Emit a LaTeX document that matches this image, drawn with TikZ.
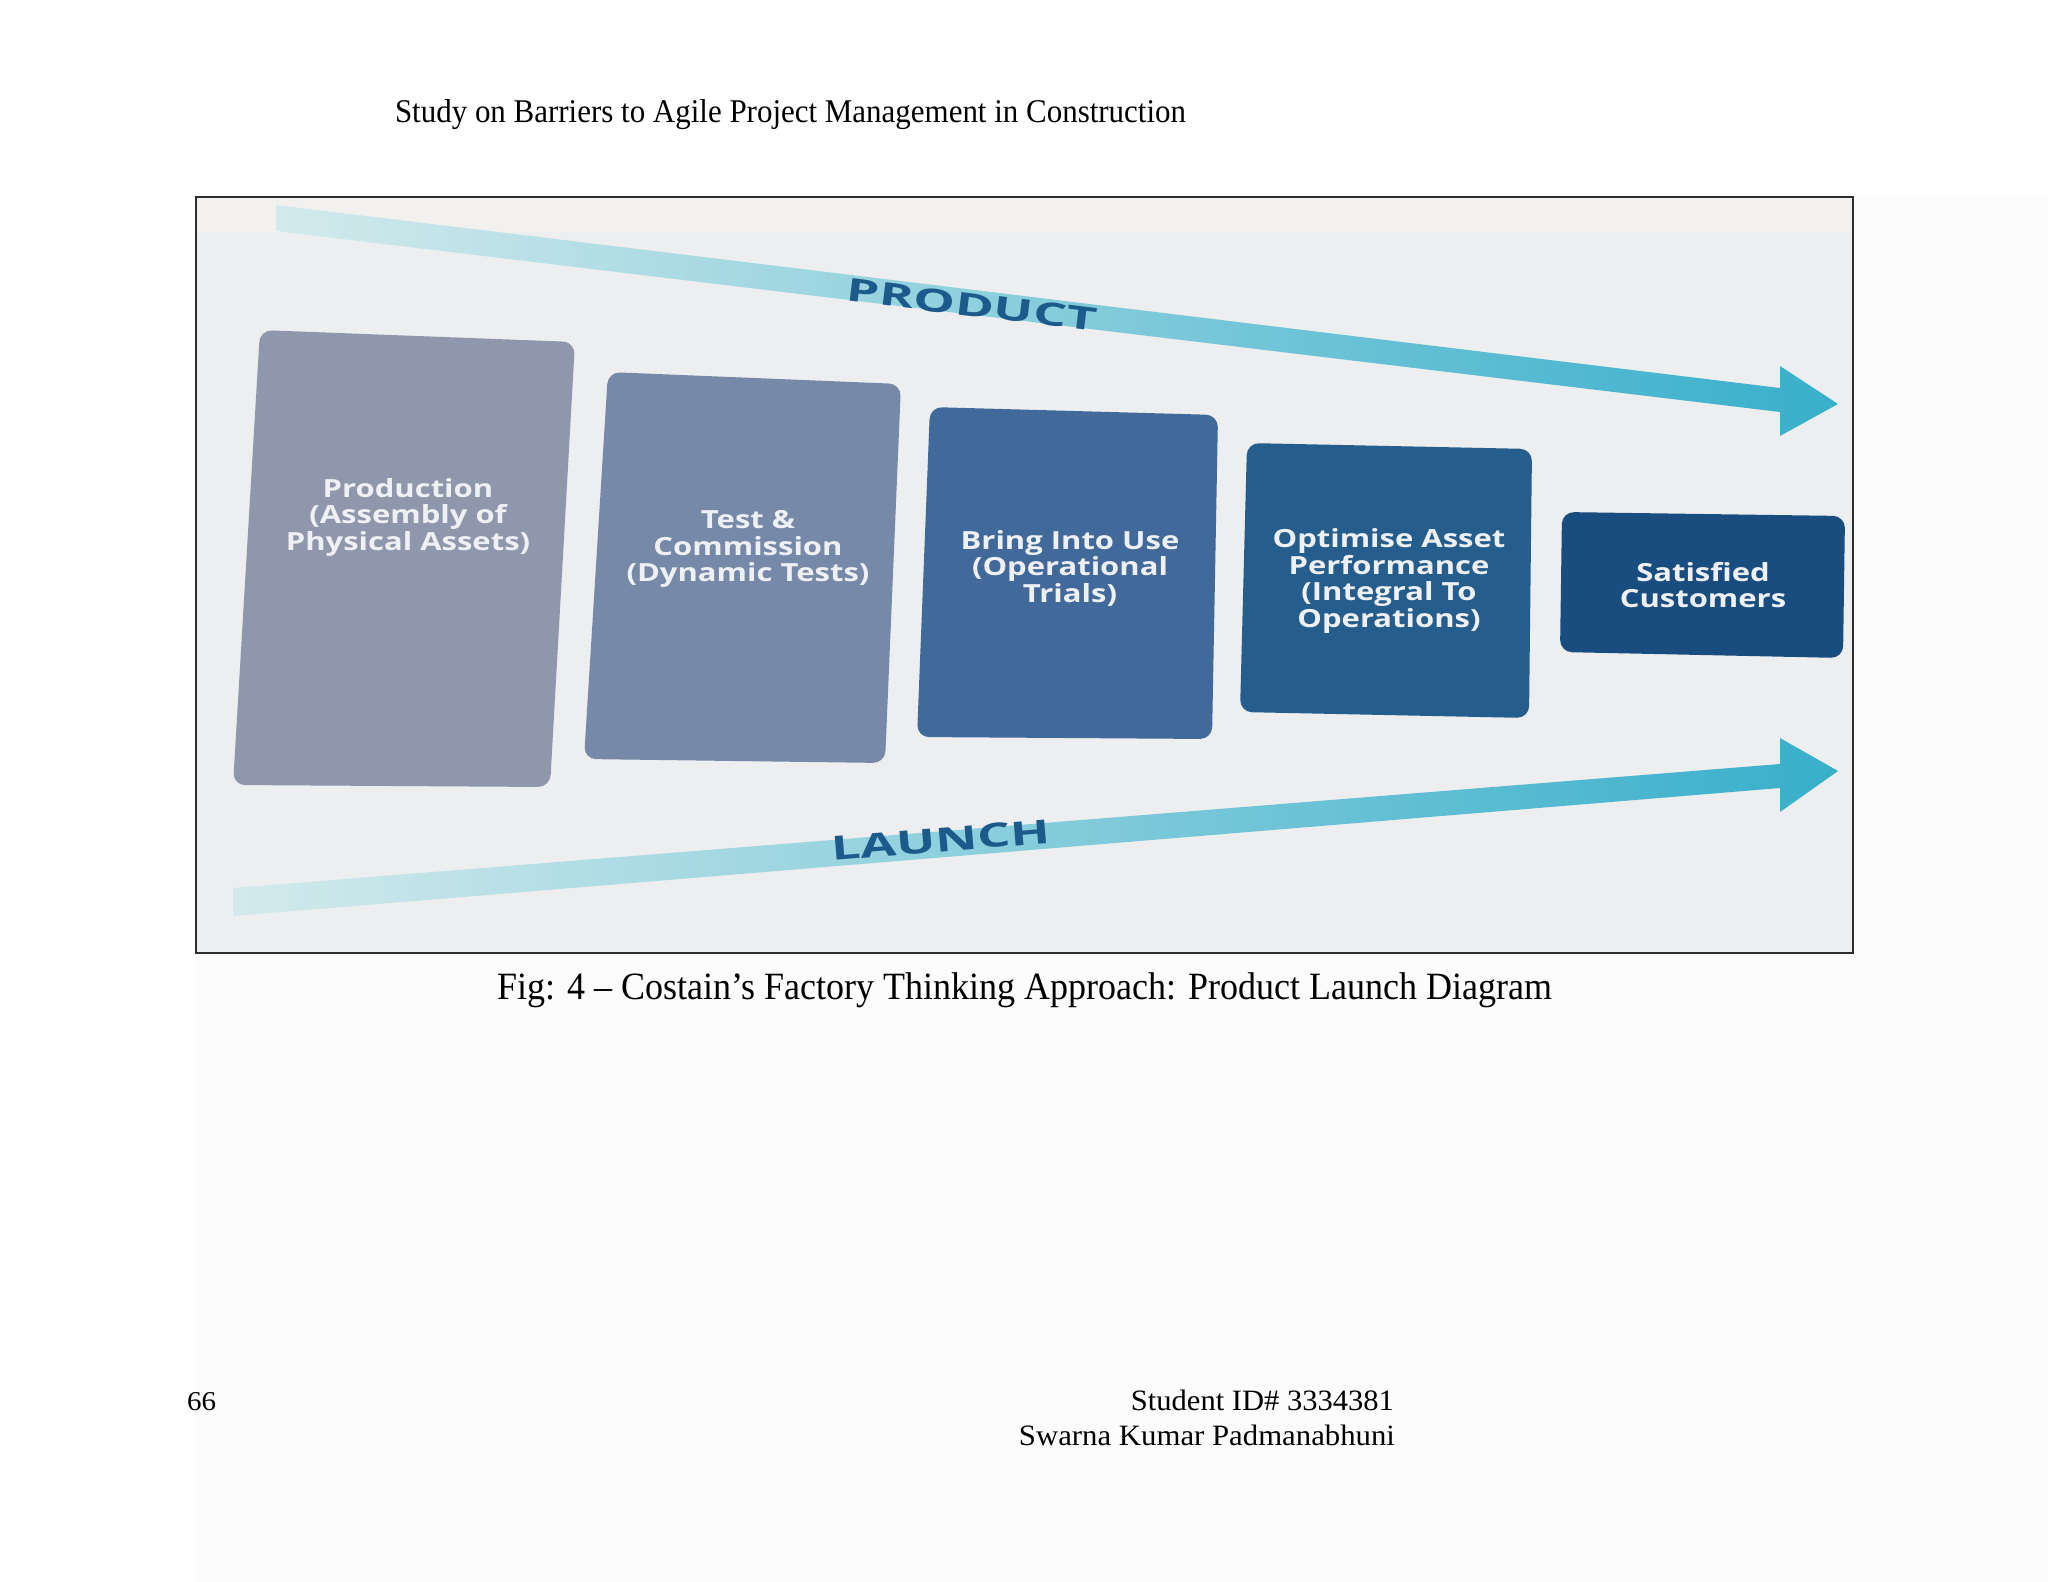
\documentclass[tikz,border=0pt]{standalone}
\usepackage{graphicx}
\usepackage{fontspec}
\setmainfont{Liberation Serif}
\newfontfamily\boxfont[FakeStretch=1.24]{Open Sans}
\newfontfamily\bandfont{Open Sans}
\definecolor{pagegray}{HTML}{FCFCFC}
\definecolor{framebg}{HTML}{EDEEEF}
\definecolor{framebgtop}{HTML}{F2F1F0}
\definecolor{framecol}{HTML}{2E2E2E}
\definecolor{boxA}{HTML}{8F97AD}
\definecolor{boxB}{HTML}{7689A8}
\definecolor{boxC}{HTML}{41699A}
\definecolor{boxD}{HTML}{255E8D}
\definecolor{boxE}{HTML}{1A4D7F}
\definecolor{bandpale}{HTML}{D3EAEC}
\definecolor{bandstrong}{HTML}{38AFCB}
\definecolor{labelblue}{HTML}{1D5A8C}
\definecolor{boxtext}{HTML}{EEF0F4}
\newcommand{\fitline}[3]{\resizebox{#1}{#2}{#3}}
\begin{document}
\begin{tikzpicture}[x=1pt,y=-1pt,
  pagetext/.style={inner sep=0pt, outer sep=0pt, text=black},
  boxlabel/.style={align=center, inner sep=0pt, text=boxtext,
    font=\boxfont\bfseries\fontsize{25}{26.5}\selectfont},
  bandlabel/.style={inner sep=0pt, text=labelblue},
  stagebox/.style={rounded corners=12pt}]
\useasboundingbox (0,0) rectangle (2048,1582);
\fill[white] (0,0) rectangle (2048,1582);
\fill[pagegray] (196,196) rectangle (2048,1582);

% page texts
\node[pagetext, anchor=base west] (header) at (395,122)
  {\fitline{791pt}{23pt}{Study on Barriers to Agile Project Management in Construction}};
\node[pagetext, anchor=base west] (caption) at (497,999)
  {\fitline{1055pt}{26.8pt}{Fig: 4 -- Costain’s Factory Thinking Approach: Product Launch Diagram}};
\node[pagetext, anchor=base west] (pagenum) at (187,1410)
  {\fitline{29pt}{18pt}{66}};
\node[pagetext, anchor=base east] (sid) at (1394,1410)
  {\fitline{263pt}{20.5pt}{Student ID\# 3334381}};
\node[pagetext, anchor=base east] (sname) at (1395,1445)
  {\fitline{376pt}{20.5pt}{Swarna Kumar Padmanabhuni}};

% figure frame
\fill[framebg] (196,197) rectangle (1853,953);
\fill[framebgtop] (196,197) rectangle (1853,232);
\draw[framecol, line width=2.5pt] (196,197) rectangle (1853,953);

% PRODUCT arrow band
\shade[left color=bandpale, right color=bandstrong]
  (276,205) -- (1780,388) -- (1780,366) -- (1838,404) -- (1780,436) -- (1780,412) -- (276,231) -- cycle;
% LAUNCH arrow band
\shade[left color=bandpale, right color=bandstrong]
  (233,888) -- (1780,764) -- (1780,738) -- (1838,771) -- (1780,812) -- (1780,788) -- (233,916) -- cycle;

\node[bandlabel, rotate=-7] (product) at (972,305)
  {\fitline{252pt}{23pt}{\bandfont\bfseries PRODUCT}};
\node[bandlabel, rotate=4.7] (launch) at (941,840)
  {\fitline{220pt}{24pt}{\bandfont\bfseries LAUNCH}};

% stage boxes
\fill[boxA, stagebox] (260,330) -- (575,342) -- (550,787) -- (233,785) -- cycle;
\fill[boxB, stagebox] (608,372) -- (901,384) -- (885,763) -- (584,759) -- cycle;
\fill[boxC, stagebox] (930,407) -- (1218,415) -- (1212,739) -- (917,737) -- cycle;
\fill[boxD, stagebox] (1247,443) -- (1532,449) -- (1529,718) -- (1240,712) -- cycle;
\fill[boxE, stagebox] (1562,512) -- (1845,516) -- (1843,658) -- (1560,652) -- cycle;

\node[boxlabel] (s1) at (408,517) {Production\\(Assembly of\\Physical Assets)};
\node[boxlabel] (s2) at (748,549) {Test \&\\Commission\\(Dynamic Tests)};
\node[boxlabel] (s3) at (1070,568) {Bring Into Use\\(Operational\\Trials)};
\node[boxlabel] (s4) at (1389,581) {Optimise Asset\\Performance\\(Integral To\\Operations)};
\node[boxlabel] (s5) at (1703,585) {Satisfied\\Customers};
\end{tikzpicture}
\end{document}
